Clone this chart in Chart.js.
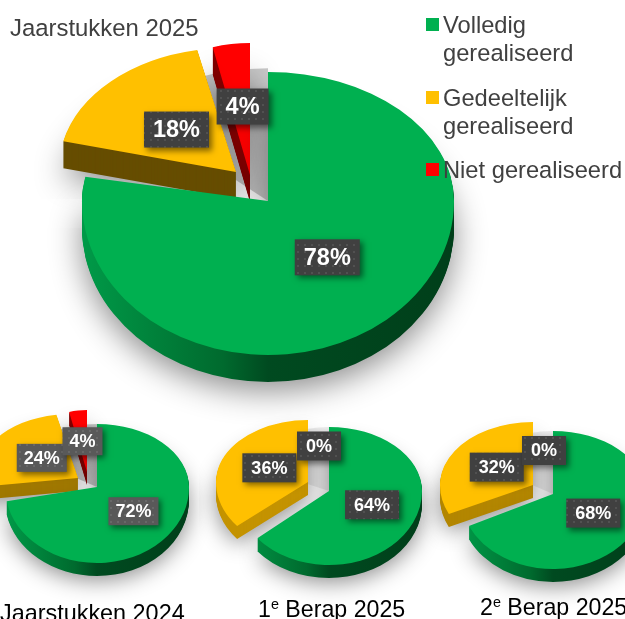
<!DOCTYPE html>
<html>
<head>
<meta charset="utf-8">
<script src="https://cdn.jsdelivr.net/npm/chart.js@4"></script>
<style>
    html, body { margin: 0; padding: 0; background: #fff; }
    body { position: relative; width: 625px; height: 619px; overflow: hidden; font-family: "Liberation Sans", Arial, sans-serif; }
    canvas { position: absolute; }
    .title { position: absolute; white-space: nowrap; line-height: 26px; }
    .title sup { font-size: 62%; line-height: 0; vertical-align: baseline; position: relative; top: -0.55em; }
    .legend-item { position: absolute; left: 443px; width: 182px; font-size: 23.7px; line-height: 28px; color: #404040; }
    .legend-box { position: absolute; left: 426px; width: 13px; height: 13px; }
</style>
</head>
<body>
<canvas id="pie2025" width="480" height="480"></canvas>
<canvas id="pie2024" width="260" height="260"></canvas>
<canvas id="pieBerap1" width="260" height="260"></canvas>
<canvas id="pieBerap2" width="260" height="260"></canvas>

<script>
// Data
const categories = ['Volledig gerealiseerd', 'Gedeeltelijk gerealiseerd', 'Niet gerealiseerd'];
const jaarstukken2025 = [78, 18, 4];
const jaarstukken2024 = [72, 24, 4];
const berap1 = [64, 36, 0];
const berap2 = [68, 32, 0];

const sliceColors = ['#00B050', '#FFC000', '#FF0000'];
const BASE_RADIUS = 100;

// Look of each pie: where it sits, how thick it is, and how each slice is pulled out and tilted
const pieViews = {
    pie2025: {
        left: 28, top: -39, depth: 27, labelFont: 23.5, labelH: 36, labelPad: 9, labelBg: '#404040',
        gap: '#c8c8c8', gapScale: 1.03,
        walls: ['green', '#664d00', '#800000'],
        slices: [
            { dx: 0, dy: 0, rx: 186, top: 129, bottom: 154, ly: -3 },
            { dx: -32, dy: -29, rx: 177, top: 124, bottom: 150, turn: 2.5, lx: 5 },
            { dx: -18, dy: -26, rx: 150, top: 132, bottom: 150, lx: 2, ly: -3 }
        ]
    },
    pie2024: {
        left: -33, top: 357, depth: 13, labelFont: 18, labelH: 28, labelPad: 7, labelBg: '#595959',
        gap: '#c8c8c8', gapScale: 1.0,
        walls: ['green', '#a07800', '#800000'],
        slices: [
            { dx: 0, dy: 0, rx: 92, top: 63, bottom: 76, lx: 1 },
            { dx: -19, dy: -9, rx: 100, top: 64, bottom: 76, turn: 3, lx: 6, ly: -3 },
            { dx: -10, dy: -15, rx: 72, top: 62, bottom: 76 }
        ]
    },
    pieBerap1: {
        left: 199, top: 361, depth: 13, labelFont: 18, labelH: 29, labelPad: 9, labelBg: '#404040',
        gap: '#ececec', gapScale: 1.0,
        walls: ['green', '#c49300', '#800000'],
        slices: [
            { dx: 0, dy: 0, rx: 93, top: 64, bottom: 74, lx: 1, ly: -2 },
            { dx: -21, dy: -9, rx: 92, top: 62, bottom: 69, lx: 3, ly: -1 },
            { dx: -10, dy: -13, rx: 93, top: 64, bottom: 74 }
        ]
    },
    pieBerap2: {
        left: 423, top: 364, depth: 13, labelFont: 18, labelH: 29, labelPad: 9, labelBg: '#404040',
        gap: '#ececec', gapScale: 1.0,
        walls: ['green', '#b38600', '#800000'],
        slices: [
            { dx: 0, dy: 0, rx: 93, top: 63, bottom: 75, lx: 1, ly: -1 },
            { dx: -20, dy: -9, rx: 93, top: 63, bottom: 68, lx: 3, ly: -1 },
            { dx: -9, dy: -12, rx: 93, top: 63, bottom: 75 }
        ]
    }
};

// Paints fn twice, upper half and lower half, because the far half of a tilted pie looks flatter
function inSliceSpace(ctx, el, s, shiftY, fn) {
    [[s.top, -1], [s.bottom, 1]].forEach(([ry, side]) => {
        ctx.save();
        ctx.translate(el.x + s.dx, el.y + s.dy + shiftY);
        ctx.beginPath();
        ctx.rect(-1000, side < 0 ? -1000 : 0, 2000, 1000);
        ctx.clip();
        if (s.turn) ctx.rotate(s.turn * Math.PI / 180);
        ctx.scale(s.rx / BASE_RADIUS, ry / BASE_RADIUS);
        ctx.translate(-el.x, -el.y);
        fn();
        ctx.restore();
    });
}

function wedgePath(ctx, el, r, start, end) {
    ctx.beginPath();
    ctx.moveTo(el.x, el.y);
    ctx.arc(el.x, el.y, r, start, end);
    ctx.closePath();
}

function wallFill(ctx, el, wall) {
    if (wall !== 'green') return wall;
    const g = ctx.createLinearGradient(el.x - BASE_RADIUS, 0, el.x + BASE_RADIUS, 0);
    g.addColorStop(0, '#009a48');
    g.addColorStop(0.38, '#006a2e');
    g.addColorStop(0.5, '#004a20');
    g.addColorStop(1, '#003f1a');
    return g;
}

function dotPattern(ctx) {
    const tile = document.createElement('canvas');
    tile.width = tile.height = 7;
    const t = tile.getContext('2d');
    t.fillStyle = 'rgba(255,255,255,0.09)';
    t.fillRect(3, 3, 2, 2);
    return ctx.createPattern(tile, 'repeat');
}

const tiltedPie = {
    id: 'tiltedPie',
    // the slices are painted here in back to front order, so the default pass is skipped
    beforeDatasetDraw(chart, args) {
        const ctx = chart.ctx;
        const view = pieViews[chart.canvas.id];
        const arcs = args.meta.data;

        // pale wedge seen in the opening of the green slice, it starts behind the orange slice
        const g = arcs[0];
        const gapStart = (arcs[1].startAngle + arcs[1].endAngle) / 2;
        inSliceSpace(ctx, g, view.slices[0], 0, () => {
            ctx.fillStyle = view.gap;
            wedgePath(ctx, g, BASE_RADIUS * view.gapScale, gapStart, g.startAngle + Math.PI * 2);
            ctx.fill();
        });

        [2, 1, 0].forEach(i => {
            const el = arcs[i];
            const s = view.slices[i];
            if (el.circumference === 0) return;
            for (let d = view.depth; d >= 1; d--) {
                inSliceSpace(ctx, el, s, d, () => {
                    if (d === view.depth) {
                        ctx.shadowColor = 'rgba(0,0,0,0.45)';
                        ctx.shadowBlur = Math.max(22, view.depth * 1.2);
                        ctx.shadowOffsetY = view.depth / 3;
                    }
                    ctx.fillStyle = wallFill(ctx, el, view.walls[i]);
                    wedgePath(ctx, el, el.outerRadius, el.startAngle, el.endAngle);
                    ctx.fill();
                });
            }
            inSliceSpace(ctx, el, s, 0, () => el.draw(ctx, chart.chartArea));
        });
        return false;
    },
    afterDraw(chart) {
        const ctx = chart.ctx;
        const view = pieViews[chart.canvas.id];
        const values = chart.data.datasets[0].data;
        const pattern = dotPattern(ctx);
        chart.getDatasetMeta(0).data.forEach((el, i) => {
            const s = view.slices[i];
            const mid = (el.startAngle + el.endAngle) / 2;
            const ux = Math.cos(mid) / 2;
            const uy = Math.sin(mid) / 2;
            const x = el.x + s.dx + ux * s.rx + (s.lx || 0);
            const y = el.y + s.dy + uy * (uy < 0 ? s.top : s.bottom) + (s.ly || 0);
            const text = values[i] + '%';
            ctx.font = 'bold ' + view.labelFont + 'px "Liberation Sans", Arial, sans-serif';
            const w = ctx.measureText(text).width + view.labelPad * 2;
            const h = view.labelH;
            ctx.save();
            ctx.shadowColor = 'rgba(0,0,0,0.5)';
            ctx.shadowBlur = 6;
            ctx.shadowOffsetX = 3;
            ctx.shadowOffsetY = 3;
            ctx.fillStyle = view.labelBg;
            ctx.fillRect(x - w / 2, y - h / 2, w, h);
            ctx.restore();
            ctx.fillStyle = pattern;
            ctx.fillRect(x - w / 2, y - h / 2, w, h);
            ctx.fillStyle = '#fff';
            ctx.textAlign = 'center';
            ctx.textBaseline = 'middle';
            ctx.fillText(text, x, y + 1);
        });
    }
};

function makePie(id, values) {
    const view = pieViews[id];
    const canvas = document.getElementById(id);
    canvas.style.left = view.left + 'px';
    canvas.style.top = view.top + 'px';
    new Chart(canvas, {
        type: 'pie',
        data: {
            labels: categories,
            datasets: [{ data: values, backgroundColor: sliceColors, borderWidth: 0, radius: BASE_RADIUS }]
        },
        options: {
            responsive: false,
            animation: false,
            events: [],
            plugins: { legend: { display: false }, tooltip: { enabled: false } }
        },
        plugins: [tiltedPie]
    });
}

makePie('pie2025', jaarstukken2025);
makePie('pie2024', jaarstukken2024);
makePie('pieBerap1', berap1);
makePie('pieBerap2', berap2);

// Titles
const titles = [
    { html: 'Jaarstukken 2025', left: 10, top: 15, size: 23.9, color: '#404040' },
    { html: 'Jaarstukken 2024', left: 0, top: 600, size: 23.4, color: '#000' },
    { html: '1<sup>e</sup> Berap 2025', left: 258, top: 596, size: 23.2, color: '#000' },
    { html: '2<sup>e</sup> Berap 2025', left: 480, top: 594, size: 23.2, color: '#000' }
];
titles.forEach(t => {
    const div = document.createElement('div');
    div.className = 'title';
    div.innerHTML = t.html;
    div.style.cssText = `left:${t.left}px;top:${t.top}px;font-size:${t.size}px;color:${t.color}`;
    document.body.appendChild(div);
});

// Legend
const legendTops = [11, 84, 156];
categories.forEach((name, i) => {
    const box = document.createElement('div');
    box.className = 'legend-box';
    box.style.top = (legendTops[i] + 7) + 'px';
    box.style.background = sliceColors[i];
    const item = document.createElement('div');
    item.className = 'legend-item';
    item.style.top = legendTops[i] + 'px';
    item.textContent = name;
    document.body.appendChild(box);
    document.body.appendChild(item);
});
</script>
</body>
</html>
